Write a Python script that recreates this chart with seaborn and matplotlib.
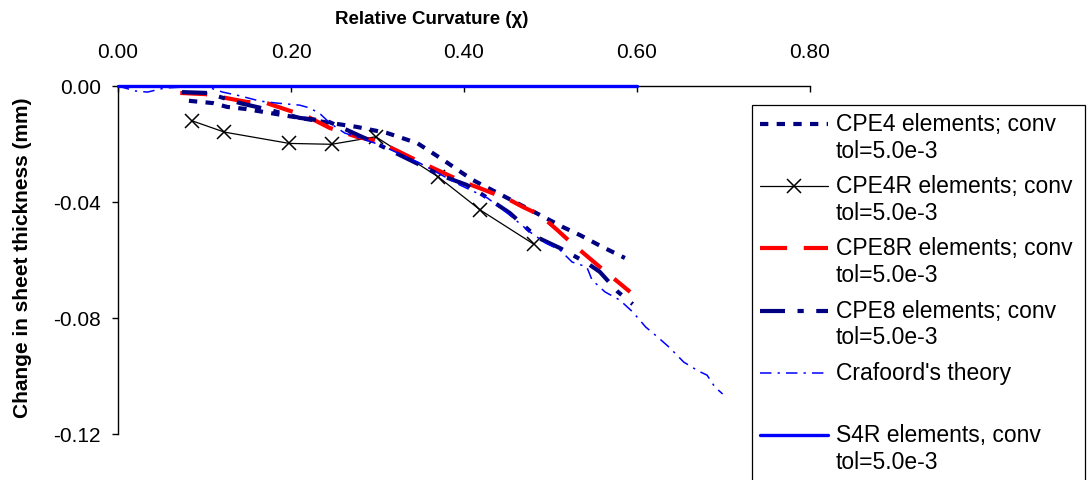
import numpy as np
import pandas as pd
import matplotlib
matplotlib.use("Agg")
import matplotlib.pyplot as plt
from matplotlib.legend_handler import HandlerLine2D
from matplotlib.ticker import FormatStrFormatter
import seaborn as sns

# ---- data: relative curvature (chi) vs change in sheet thickness (mm) ----
cpe4_x = [0.082, 0.110, 0.126, 0.147, 0.200, 0.240, 0.276, 0.311, 0.346, 0.376,
          0.398, 0.410, 0.450, 0.488, 0.514, 0.534, 0.560, 0.586]
cpe4_y = [-0.0051, -0.0059, -0.0072, -0.0079, -0.0105, -0.0125, -0.0141, -0.0162,
          -0.0197, -0.0255, -0.0300, -0.0324, -0.0386, -0.0445, -0.0486, -0.0514,
          -0.0555, -0.0593]

cpe4r_x = [0.0856, 0.123, 0.198, 0.247, 0.298, 0.370, 0.419, 0.481]
cpe4r_y = [-0.0120, -0.0159, -0.0198, -0.0201, -0.0175, -0.0313, -0.0428, -0.0546]

cpe8r_x = [0.072, 0.101, 0.149, 0.172, 0.220, 0.245, 0.277, 0.300, 0.349, 0.399,
           0.418, 0.453, 0.468, 0.488, 0.508, 0.523, 0.557, 0.592]
cpe8r_y = [-0.0024, -0.0028, -0.0055, -0.0059, -0.0107, -0.0145, -0.0176, -0.0190,
           -0.0262, -0.0331, -0.0352, -0.0393, -0.0417, -0.0445, -0.0497, -0.0538,
           -0.0624, -0.0710]

cpe8_x = [0.074, 0.103, 0.141, 0.176, 0.210, 0.242, 0.265, 0.295, 0.349, 0.372,
          0.403, 0.422, 0.453, 0.484, 0.511, 0.542, 0.557, 0.578, 0.595]
cpe8_y = [-0.0021, -0.0024, -0.0059, -0.0083, -0.0110, -0.0121, -0.0152, -0.0193,
          -0.0272, -0.0307, -0.0341, -0.0376, -0.0438, -0.0521, -0.0559, -0.0610,
          -0.0641, -0.0710, -0.0752]

crafoord_x = [0.000, 0.020, 0.034, 0.054, 0.080, 0.103, 0.121, 0.141, 0.164, 0.184,
              0.210, 0.222, 0.234, 0.245, 0.262, 0.276, 0.303, 0.349, 0.395, 0.427,
              0.450, 0.476, 0.494, 0.511, 0.525, 0.542, 0.548, 0.563, 0.580, 0.595,
              0.610, 0.624, 0.638, 0.654, 0.671, 0.681, 0.690, 0.699]
crafoord_y = [0.0000, -0.0017, -0.0021, -0.0007, -0.0003, -0.0003, -0.0021, -0.0034,
              -0.0052, -0.0059, -0.0066, -0.0076, -0.0097, -0.0128, -0.0162, -0.0176,
              -0.0203, -0.0266, -0.0341, -0.0386, -0.0438, -0.0503, -0.0541, -0.0566,
              -0.0607, -0.0624, -0.0669, -0.0710, -0.0738, -0.0779, -0.0831, -0.0866,
              -0.0903, -0.0952, -0.0983, -0.0997, -0.1038, -0.1062]

s4r_x = [0.0, 0.6]
s4r_y = [0.0, 0.0]

labels = [
    "CPE4 elements; conv\ntol=5.0e-3",
    "CPE4R elements; conv\ntol=5.0e-3",
    "CPE8R elements; conv\ntol=5.0e-3",
    "CPE8 elements; conv\ntol=5.0e-3",
    "Crafoord's theory\n ",
    "S4R elements, conv\ntol=5.0e-3",
]

x_ticks = [0.0, 0.2, 0.4, 0.6, 0.8]
y_ticks = [0.0, -0.04, -0.08, -0.12]

NAVY = "#000080"
RED = "#FF0000"
BLUE = "#0000FF"


class FirstLineHandler(HandlerLine2D):
    """Legend line handle aligned with the first line of a two-line label."""

    def __init__(self, shift=0.65, **kwargs):
        super().__init__(**kwargs)
        self._shift = shift

    def create_artists(self, legend, orig_handle, xdescent, ydescent,
                       width, height, fontsize, trans):
        return super().create_artists(
            legend, orig_handle, xdescent,
            ydescent - 2 * self._shift * fontsize,
            width, height, fontsize, trans)


sns.set_theme(style="white")
plt.rcParams["font.family"] = ["Liberation Sans", "DejaVu Sans"]
plt.rcParams["axes.unicode_minus"] = False
for key in ("text.color", "axes.labelcolor", "xtick.color", "ytick.color",
            "xtick.labelcolor", "ytick.labelcolor"):
    plt.rcParams[key] = "black"

fig = plt.figure(figsize=(10.9, 4.8), dpi=100)
ax = fig.add_axes([118 / 1090, 46 / 480, 692 / 1090, 348 / 480])

common = dict(ax=ax, estimator=None, sort=False, legend=False)

sns.lineplot(x=cpe4_x, y=cpe4_y, color=NAVY, lw=3.0,
             linestyle=(0, (2.0, 2.0)), dash_capstyle="butt",
             label=labels[0], zorder=2.1, **common)
sns.lineplot(x=cpe4r_x, y=cpe4r_y, color="black", lw=0.9, marker="x",
             markersize=10.5, mec="black", mew=1.1,
             label=labels[1], zorder=2.2, **common)
sns.lineplot(x=cpe8r_x, y=cpe8r_y, color=RED, lw=3.0,
             linestyle=(0, (6.5, 4.0)), dash_capstyle="butt",
             label=labels[2], zorder=2.3, **common)
sns.lineplot(x=cpe8_x, y=cpe8_y, color=NAVY, lw=3.0,
             linestyle=(0, (6, 3, 1.5, 3)), dash_capstyle="butt",
             label=labels[3], zorder=2.4, **common)
sns.lineplot(x=crafoord_x, y=crafoord_y, color=BLUE, lw=1.1,
             linestyle=(0, (7.5, 4, 1.5, 4)),
             label=labels[4], zorder=2.5, **common)
sns.lineplot(x=s4r_x, y=s4r_y, color=BLUE, lw=2.4,
             label=labels[5], zorder=3, clip_on=False, **common)

# axes: x along the top, y descending from zero
ax.set_xlim(0, 0.8)
ax.set_ylim(-0.12, 0.0)
ax.set_xticks(x_ticks)
ax.set_yticks(y_ticks)
ax.xaxis.set_major_formatter(FormatStrFormatter("%.2f"))
ax.yaxis.set_major_formatter(FormatStrFormatter("%.2f"))
ax.xaxis.set_ticks_position("top")
ax.xaxis.set_label_position("top")

for side in ("right", "bottom"):
    ax.spines[side].set_visible(False)
for side in ("top", "left"):
    ax.spines[side].set_color("black")
    ax.spines[side].set_linewidth(1.0)

ax.tick_params(axis="x", direction="in", length=4.5, width=1, color="black",
               labelsize=15, pad=17, top=True, bottom=False)
ax.tick_params(axis="y", direction="out", length=4.5, width=1, color="black",
               labelsize=15, pad=8, left=True)

ax.set_xlabel("Relative Curvature (\u03c7)", fontsize=13.5, fontweight="bold")
ax.xaxis.set_label_coords(0.454, 1.179)
ax.set_ylabel("Change in sheet thickness (mm)", fontsize=15, fontweight="bold")
ax.yaxis.set_label_coords(-0.124, 0.506)

handles, _ = ax.get_legend_handles_labels()
leg = fig.legend(handles, labels, loc="upper left",
                 bbox_to_anchor=(752 / 1090, 1 - 105 / 480, 333 / 1090, 0.0),
                 mode="expand", borderaxespad=0.0, fontsize=16.5,
                 handlelength=2.97, handletextpad=0.35, borderpad=0.35,
                 labelspacing=0.55, fancybox=False, framealpha=1.0,
                 edgecolor="black",
                 handler_map={h: FirstLineHandler(shift=0.65) for h in handles})
leg.get_frame().set_linewidth(0.9)

fig.savefig("out.png", dpi=100)
